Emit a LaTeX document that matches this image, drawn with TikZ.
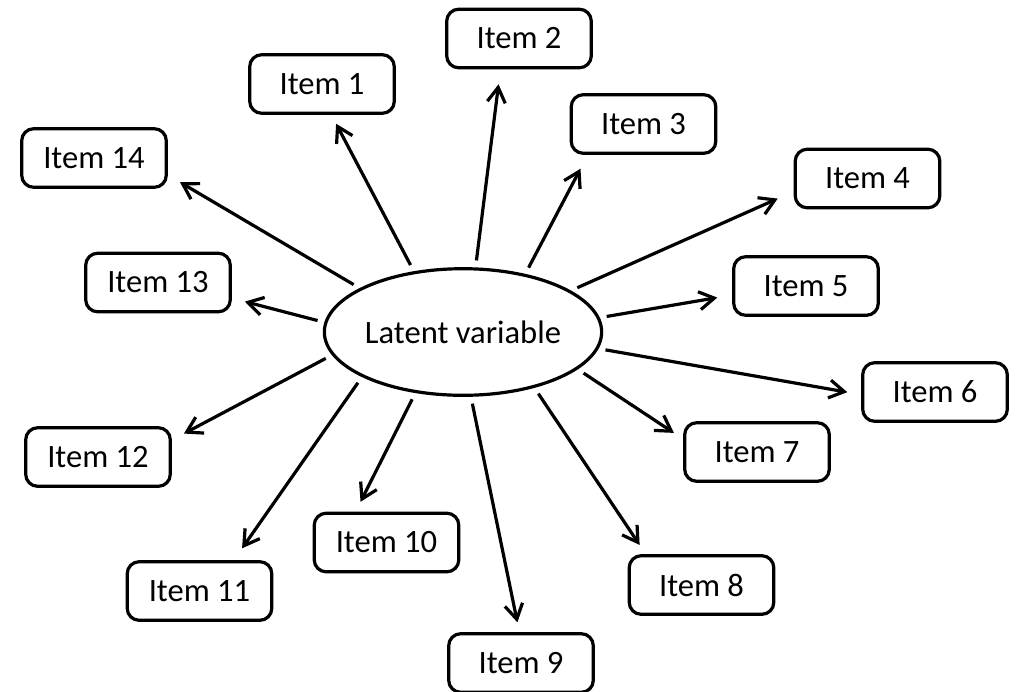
\documentclass[tikz,border=0pt]{standalone}
\usepackage{fontspec}
\setmainfont{Carlito}
\usetikzlibrary{arrows.meta,shapes.geometric}
\tikzset{
  itembox/.style={draw, rounded corners=6pt, line width=1.6pt, minimum width=72.3pt, minimum height=29.3pt, inner sep=0pt},
  latent/.style={draw, ellipse, line width=1.6pt, minimum width=137.4pt, minimum height=63.3pt, inner sep=0pt},
  load/.style={-{Straight Barb[length=7.5pt,width=9pt]}, line width=1.6pt, shorten <=3.5pt}
}
\begin{document}
\begin{tikzpicture}[x=0.5pt,y=-0.5pt,font=\fontsize{16.3}{19.5}\selectfont]
        \useasboundingbox (0,0) rectangle (1020,691);
        % latent variable
        \node[latent] (lv) at (463,332) {Latent variable};

        % items
        \node[itembox] (i1) at (322,84) {Item 1};
        \node[itembox] (i2) at (519,38.5) {Item 2};
        \node[itembox] (i3) at (643.5,124) {Item 3};
        \node[itembox] (i4) at (867.5,178.5) {Item 4};
        \node[itembox] (i5) at (806,286) {Item 5};
        \node[itembox] (i6) at (935,392) {Item 6};
        \node[itembox] (i7) at (757,452) {Item 7};
        \node[itembox] (i8) at (701.5,585) {Item 8};
        \node[itembox] (i9) at (521,663) {Item 9};
        \node[itembox] (i10) at (386.5,542.5) {Item 10};
        \node[itembox] (i11) at (199.5,591) {Item 11};
        \node[itembox] (i12) at (98,457) {Item 12};
        \node[itembox] (i13) at (158,282.5) {Item 13};
        \node[itembox] (i14) at (94,158) {Item 14};

        % loadings
        \draw[load, shorten >=5pt] (lv.129) -- (i1.-73);
        \draw[load, shorten >=7.5pt] (lv.79) -- (i2.-121);
        \draw[load, shorten >=7.8pt] (lv.43) -- (i3.-151);
        \draw[load, shorten >=8.7pt] (lv.21) -- (i4.-170);
        \draw[load, shorten >=7.5pt] (lv.6) -- (i5.-173);
        \draw[load, shorten >=7pt] (lv.-7) -- (i6.-178);
        \draw[load, shorten >=5.5pt] (lv.-18) -- (i7.170);
        \draw[load, shorten >=5.5pt] (lv.-38) -- (i8.151);
        \draw[load, shorten >=5pt] (lv.-83) -- (i9.93);
        \draw[load, shorten >=5.5pt] (lv.-128) -- (i10.135);
        \draw[load, shorten >=7.2pt] (lv.-156) -- (i11.42);
        \draw[load, shorten >=6.8pt] (lv.-170) -- (i12.13);
        \draw[load, shorten >=6.7pt] (lv.176) -- (i13.-12);
        \draw[load, shorten >=7pt] (lv.157) -- (i14.-13);
\end{tikzpicture}
\end{document}
